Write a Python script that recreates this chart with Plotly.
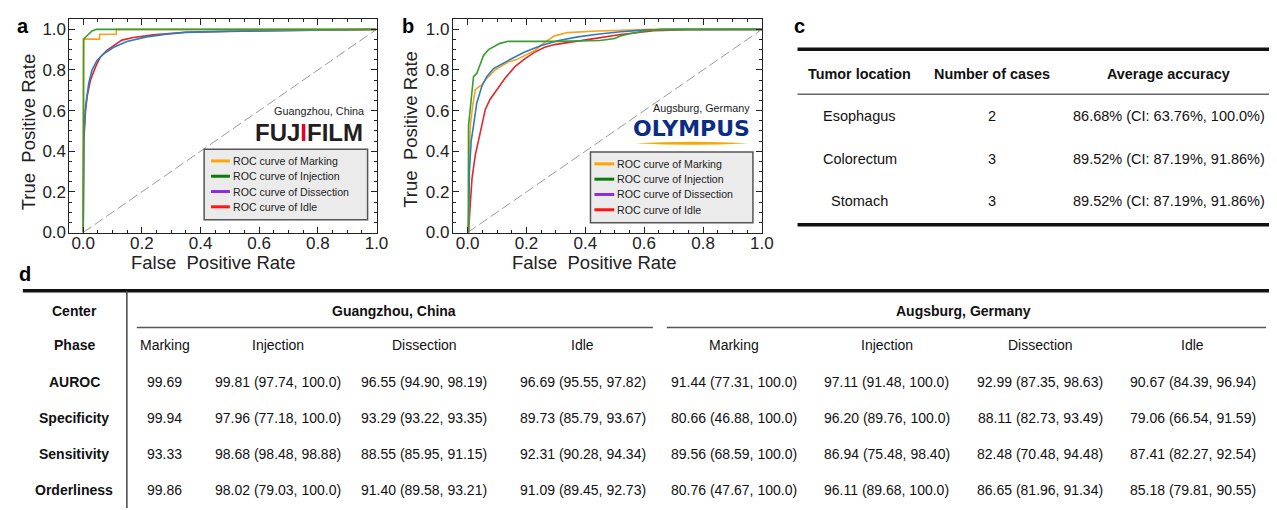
import plotly.graph_objects as go

# ---------------- data ----------------
roc_ticks = [0.0, 0.2, 0.4, 0.6, 0.8, 1.0]
roc_ticklabels = ["0.0", "0.2", "0.4", "0.6", "0.8", "1.0"]
roc_minor = [0.05 * i for i in range(21)]
x_title = "False\u00a0 Positive Rate"
y_title = "True\u00a0 Positive Rate"

legend_labels = ["ROC curve of Marking", "ROC curve of Injection",
                 "ROC curve of Dissection", "ROC curve of Idle"]

# Panel a - Guangzhou, China (FUJIFILM)
gz_marking_fpr = [0, 0, 0.056, 0.056, 0.113, 0.113, 1.0]
gz_marking_tpr = [0, 0.952, 0.952, 0.976, 0.976, 1.0, 1.0]
gz_injection_fpr = [0, 0.002, 0.01, 0.02, 0.03, 0.045, 1.0]
gz_injection_tpr = [0, 0.952, 0.965, 0.98, 0.992, 1.0, 1.0]
gz_dissection_fpr = [0, 0.002, 0.008, 0.0135, 0.019, 0.03, 0.047, 0.07, 0.104, 0.149,
                     0.216, 0.284, 0.348, 0.5, 0.7, 0.85, 1.0]
gz_dissection_tpr = [0, 0.48, 0.622, 0.67, 0.735, 0.80, 0.847, 0.88, 0.912, 0.94,
                     0.963, 0.976, 0.985, 0.991, 0.995, 0.998, 1.0]
gz_idle_fpr = [0, 0.002, 0.008, 0.0135, 0.025, 0.042, 0.058, 0.081, 0.104, 0.132,
               0.171, 0.239, 0.348, 0.5, 0.7, 1.0]
gz_idle_tpr = [0, 0.45, 0.6, 0.67, 0.751, 0.815, 0.863, 0.896, 0.92, 0.947,
               0.96, 0.973, 0.986, 0.991, 0.995, 1.0]

# Panel b - Augsburg, Germany (OLYMPUS)
ag_marking_fpr = [0, 0.003, 0.005, 0.009, 0.017, 0.026, 0.037, 0.048, 0.06, 0.076, 0.093,
                  0.11, 0.138, 0.166, 0.194, 0.228, 0.262, 0.295, 0.34, 0.441, 0.55, 0.62, 1.0]
ag_marking_tpr = [0, 0, 0.35, 0.526, 0.622, 0.703, 0.716, 0.727, 0.751, 0.775, 0.80,
                  0.815, 0.839, 0.851, 0.872, 0.896, 0.936, 0.968, 0.984, 0.992, 0.996, 1.0, 1.0]
ag_injection_fpr = [0, 0.002, 0.003, 0.012, 0.02, 0.031, 0.043, 0.054, 0.071, 0.088, 0.11,
                    0.138, 0.3, 0.45, 0.5, 0.52, 0.543, 0.6, 0.655, 1.0]
ag_injection_tpr = [0, 0, 0.526, 0.67, 0.767, 0.783, 0.831, 0.872, 0.90, 0.915, 0.931,
                    0.941, 0.941, 0.945, 0.955, 0.968, 0.976, 0.992, 1.0, 1.0]
ag_dissection_fpr = [0, 0.003, 0.006, 0.012, 0.02, 0.031, 0.048, 0.065, 0.088, 0.116, 0.149,
                     0.194, 0.25, 0.306, 0.374, 0.441, 0.52, 0.6, 0.7, 1.0]
ag_dissection_tpr = [0, 0, 0.3, 0.45, 0.526, 0.638, 0.719, 0.767, 0.807, 0.831, 0.855,
                     0.888, 0.92, 0.944, 0.963, 0.976, 0.988, 0.996, 1.0, 1.0]
ag_idle_fpr = [0, 0.003, 0.009, 0.015, 0.026, 0.043, 0.06, 0.076, 0.099, 0.127, 0.16,
               0.194, 0.228, 0.262, 0.295, 0.34, 0.396, 0.441, 0.52, 0.633, 0.75, 1.0]
ag_idle_tpr = [0, 0, 0.14, 0.268, 0.381, 0.50, 0.606, 0.655, 0.703, 0.759, 0.815,
               0.855, 0.888, 0.912, 0.925, 0.936, 0.949, 0.957, 0.975, 0.993, 0.998, 1.0]

chance_x = [0, 1]
chance_y = [0, 1]

# Panel c table
c_headers = ["Tumor location", "Number of cases", "Average accuracy"]
c_locations = ["Esophagus", "Colorectum", "Stomach"]
c_cases = ["2", "3", "3"]
c_accuracy = ["86.68% (CI: 63.76%, 100.0%)", "89.52% (CI: 87.19%, 91.86%)",
              "89.52% (CI: 87.19%, 91.86%)"]

# Panel d table
d_centers = ["Guangzhou, China", "Augsburg, Germany"]
d_phases = ["Marking", "Injection", "Dissection", "Idle"]
d_row_labels = ["Center", "Phase", "AUROC", "Specificity", "Sensitivity", "Orderliness"]
gz_auroc = ["99.69", "99.81 (97.74, 100.0)", "96.55 (94.90, 98.19)", "96.69 (95.55, 97.82)"]
gz_specificity = ["99.94", "97.96 (77.18, 100.0)", "93.29 (93.22, 93.35)", "89.73 (85.79, 93.67)"]
gz_sensitivity = ["93.33", "98.68 (98.48, 98.88)", "88.55 (85.95, 91.15)", "92.31 (90.28, 94.34)"]
gz_orderliness = ["99.86", "98.02 (79.03, 100.0)", "91.40 (89.58, 93.21)", "91.09 (89.45, 92.73)"]
ag_auroc = ["91.44 (77.31, 100.0)", "97.11 (91.48, 100.0)", "92.99 (87.35, 98.63)", "90.67 (84.39, 96.94)"]
ag_specificity = ["80.66 (46.88, 100.0)", "96.20 (89.76, 100.0)", "88.11 (82.73, 93.49)", "79.06 (66.54, 91.59)"]
ag_sensitivity = ["89.56 (68.59, 100.0)", "86.94 (75.48, 98.40)", "82.48 (70.48, 94.48)", "87.41 (82.27, 92.54)"]
ag_orderliness = ["80.76 (47.67, 100.0)", "96.11 (89.68, 100.0)", "86.65 (81.96, 91.34)", "85.18 (79.81, 90.55)"]

# ---------------- helpers / style ----------------
W, H = 1277, 510
FONT = "Liberation Sans, Arial, sans-serif"


def X(px):
    return px / W


def Y(py):
    return 1 - py / H


C_MARK, C_INJ, C_DIS, C_IDLE = "#f9a11b", "#3a9d34", "#2c7cbf", "#e2262b"
L_MARK, L_INJ, L_DIS, L_IDLE = "#ffa500", "#0b7b0b", "#8b2be2", "#ff1414"

fig = go.Figure()

panels = [
    ("x", "y", [(gz_idle_fpr, gz_idle_tpr, C_IDLE, "Idle"), (gz_dissection_fpr, gz_dissection_tpr, C_DIS, "Dissection"),
                (gz_marking_fpr, gz_marking_tpr, C_MARK, "Marking"), (gz_injection_fpr, gz_injection_tpr, C_INJ, "Injection")]),
    ("x2", "y2", [(ag_idle_fpr, ag_idle_tpr, C_IDLE, "Idle"), (ag_marking_fpr, ag_marking_tpr, C_MARK, "Marking"),
                  (ag_dissection_fpr, ag_dissection_tpr, C_DIS, "Dissection"), (ag_injection_fpr, ag_injection_tpr, C_INJ, "Injection")]),
]
for xa, ya, curves in panels:
    fig.add_trace(go.Scatter(x=chance_x, y=chance_y, xaxis=xa, yaxis=ya, mode="lines",
                             line=dict(color="#9a9a9a", width=1, dash="10px,4px"),
                             showlegend=False, hoverinfo="skip"))
    for fx, ty, col, nm in curves:
        fig.add_trace(go.Scatter(x=fx, y=ty, xaxis=xa, yaxis=ya, mode="lines",
                                 name=nm, line=dict(color=col, width=1.6),
                                 showlegend=False))

axis_common = dict(
    showline=True, linecolor="#222", linewidth=1, mirror="ticks",
    ticks="inside", ticklen=6, tickwidth=1, tickcolor="#222",
    showgrid=False, zeroline=False, fixedrange=True,
    tickmode="array", tickvals=roc_ticks, ticktext=roc_ticklabels,
    tickfont=dict(size=17, color="#222", family=FONT),
    minor=dict(ticks="inside", ticklen=3, tickwidth=1, tickcolor="#222",
               tickmode="array", tickvals=roc_minor, showgrid=False),
)
ydom = [Y(229), Y(11)]
fig.update_layout(
    xaxis=dict(axis_common, domain=[X(62), X(372)], range=[-0.047, 1.0], anchor="y", ticklabelstandoff=-5),
    yaxis=dict(axis_common, domain=ydom, range=[0, 1.052], anchor="x", ticklabelstandoff=-1),
    xaxis2=dict(axis_common, domain=[X(449), X(761)], range=[-0.0505, 1.0], anchor="y2", ticklabelstandoff=-5),
    yaxis2=dict(axis_common, domain=ydom, range=[0, 1.052], anchor="x2", ticklabelstandoff=-1),
)

shapes = []
annotations = []


def text(px, py, s, size=14, bold=False, xanchor="center", yanchor="middle", color="#111",
         family=FONT, angle=0):
    annotations.append(dict(x=X(px), y=Y(py), xref="paper", yref="paper", text=(f"<b>{s}</b>" if bold else s),
                            showarrow=False, xanchor=xanchor, yanchor=yanchor, textangle=angle,
                            font=dict(size=size, color=color, family=family)))


def hline(x0, x1, y, width, color="#111"):
    shapes.append(dict(type="line", xref="paper", yref="paper", x0=X(x0), x1=X(x1), y0=Y(y), y1=Y(y),
                       line=dict(color=color, width=width)))


# axis titles
text(207, 260, x_title, size=18.5, color="#222")
text(592, 260, x_title, size=18.5, color="#222")
text(21, 126, y_title, size=18.5, color="#222", angle=-90)
text(406, 124, y_title, size=18.5, color="#222", angle=-90)

# panel letters
text(15, 18.5, "a", size=20, bold=True, color="#000")
text(404, 18.5, "b", size=20, bold=True, color="#000")
text(799, 18.5, "c", size=20, bold=True, color="#000")
text(17, 271, "d", size=20, bold=True, color="#000")

# legends (manual boxes)
leg_cols = [L_MARK, L_INJ, L_DIS, L_IDLE]
for (bx0, bx1, by0, by1, lx0, lx1) in [(198, 363, 144, 216, 205, 224), (588, 752, 147, 219, 592, 612)]:
    shapes.append(dict(type="rect", xref="paper", yref="paper", x0=X(bx0), x1=X(bx1), y0=Y(by1), y1=Y(by0),
                       fillcolor="#ebebeb", line=dict(color="#555", width=1.5)))
    for i, (lab, col) in enumerate(zip(legend_labels, leg_cols)):
        ry = by0 + 12 + i * 15.6
        hline(lx0, lx1, ry, 3, col)
        text(lx1 + 1, ry, lab, size=10.6, xanchor="left", color="#222")

# site labels and logos
text(361, 105, "Guangzhou, China", size=10.8, xanchor="right", color="#222")
text(360, 127, "FUJ<span style='color:#e5002b'>I</span>FILM", size=24, bold=True, xanchor="right", color="#231f20")
text(751, 102, "Augsburg, Germany", size=10.8, xanchor="right", color="#222")
text(751, 123, "OLYMPUS", size=22, bold=True, xanchor="right", color="#0b2d84",
     family="DejaVu Sans, Liberation Sans, sans-serif")
# gold swoosh under the OLYMPUS logo
sx0, sx1, sy = X(633), X(748), Y(138)
dy = 1.6 / H
mid = (sx0 + sx1) / 2
shapes.append(dict(type="path", xref="paper", yref="paper",
                   path=f"M {sx0},{sy} Q {mid},{sy + 2 * dy} {sx1},{sy} Q {mid},{sy - 2 * dy} {sx0},{sy} Z",
                   fillcolor="#f2a900", line=dict(width=0)))

# ---------------- panel c table ----------------
hline(797, 1277, 42, 3.5)
hline(797, 1277, 88, 1.5, "#666")
hline(797, 1277, 221, 3.5)
c_cols = [860, 993, 1172]
for cx, h in zip(c_cols, c_headers):
    text(cx, 67, h, size=14.4, bold=True)
for i, ry in enumerate([110, 154, 197]):
    text(c_cols[0], ry, c_locations[i], size=14.5, color="#111")
    text(c_cols[1], ry, c_cases[i], size=14.5, color="#111")
    text(c_cols[2], ry, c_accuracy[i], size=14.5, color="#111")

# ---------------- panel d table ----------------
hline(15, 1277, 288.5, 3.5)
shapes.append(dict(type="line", xref="paper", yref="paper", x0=X(120), x1=X(120), y0=Y(510), y1=Y(288.5),
                   line=dict(color="#444", width=1.5)))
hline(130, 651, 326, 1.5, "#555")
hline(665, 1270, 326, 1.5, "#555")
row_y = [309, 344, 381, 418, 455, 492]
for lab, ry in zip(d_row_labels, row_y):
    text(67, ry, lab, size=14, bold=True)
text(390, 309, d_centers[0], size=14, bold=True)
text(965, 309, d_centers[1], size=14, bold=True)
gz_cols = [158, 273, 420, 580]
ag_cols = [733, 887, 1042, 1196]
for cols, vals in [(gz_cols, [gz_auroc, gz_specificity, gz_sensitivity, gz_orderliness]),
                   (ag_cols, [ag_auroc, ag_specificity, ag_sensitivity, ag_orderliness])]:
    for cx, ph in zip(cols, d_phases):
        text(cx, 344, ph, size=14)
    for r, row in enumerate(vals):
        for cx, v in zip(cols, row):
            text(cx, row_y[2 + r], v, size=14)

fig.update_layout(
    width=W, height=H, margin=dict(l=0, r=0, t=0, b=0),
    paper_bgcolor="white", plot_bgcolor="white",
    font=dict(family=FONT, color="#111"),
    shapes=shapes, annotations=annotations, showlegend=False,
)

fig.write_html("out.html")
